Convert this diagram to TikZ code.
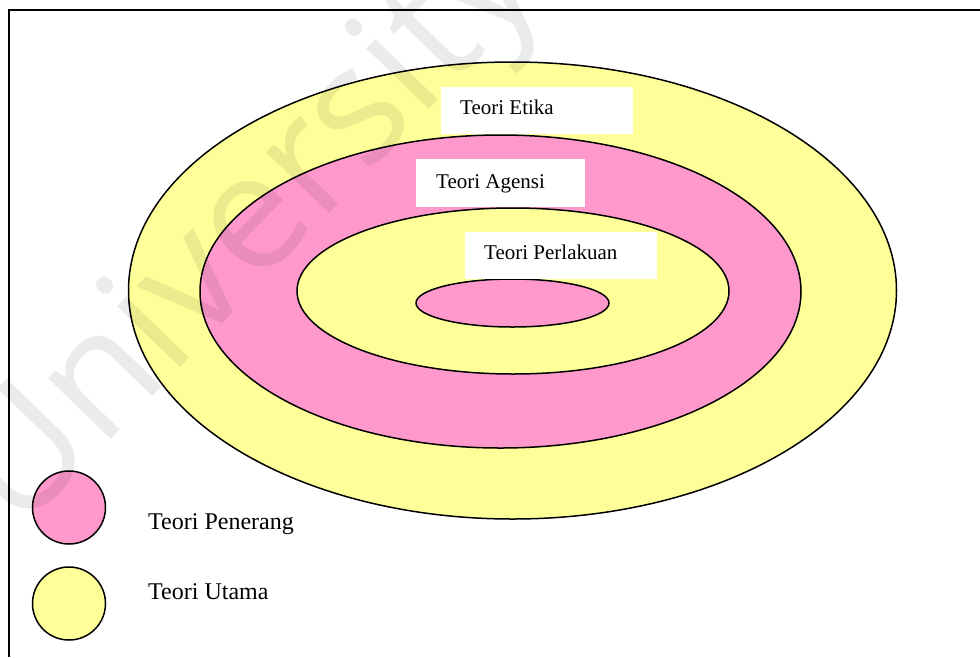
\documentclass[tikz,border=0pt]{standalone}
\usepackage{fontspec}
\setmainfont{Liberation Serif}
\newfontfamily\wmfont{Open Sans}
\definecolor{paleyellow}{HTML}{FFFF99}
\definecolor{palepink}{HTML}{FF99CC}
\begin{document}
\begin{tikzpicture}[x=1pt,y=-1pt,
  ring/.style={draw=black, line width=1.5pt},
  labelbox/.style={fill=white},
  labeltext/.style={anchor=base west, inner sep=0pt, font=\fontsize{21}{25}\selectfont},
  legendtext/.style={anchor=base west, inner sep=0pt, font=\fontsize{24}{28}\selectfont},
  frameline/.style={line width=1.6pt},
  watermark/.style={rotate=46, anchor=base, text=black, opacity=0.08, inner sep=0pt,
    font=\wmfont\fontsize{163}{163}\selectfont}]
\useasboundingbox (0,0) rectangle (980,657);
\fill[white] (0,0) rectangle (980,657);

% outer frame (top and left edges)
\draw[frameline] (9,657) -- (9,10) -- (980,10);

% nested theory rings
\draw[ring, fill=paleyellow] (512.5,290.5) ellipse [x radius=384, y radius=228.5];
\draw[ring, fill=palepink]   (500.5,291.5) ellipse [x radius=300.5, y radius=156.5];
\draw[ring, fill=paleyellow] (513,291)     ellipse [x radius=216, y radius=83];
\draw[ring, fill=palepink]   (512.5,303)   ellipse [x radius=96.5, y radius=24];

% label panels
\fill[labelbox] (441,87)  rectangle (633,134);
\fill[labelbox] (416,159) rectangle (585,207);
\fill[labelbox] (465,232) rectangle (657,279);
\node[labeltext] (etika)     at (460,114) {Teori Etika};
\node[labeltext] (agensi)    at (436,188) {Teori Agensi};
\node[labeltext] (perlakuan) at (484,259) {Teori Perlakuan};

% legend
\draw[ring, fill=palepink]   (69,507.5) circle [radius=36.5];
\draw[ring, fill=paleyellow] (69,603.5) circle [radius=36.5];
\node[legendtext] (penerang) at (148,529) {Teori Penerang};
\node[legendtext] (utama)    at (148,599) {Teori Utama};

% watermark
\begin{scope}
\clip (0,0) rectangle (980,657);
\node[watermark] (wm) at (282,262) {University};
\end{scope}
\end{tikzpicture}
\end{document}
